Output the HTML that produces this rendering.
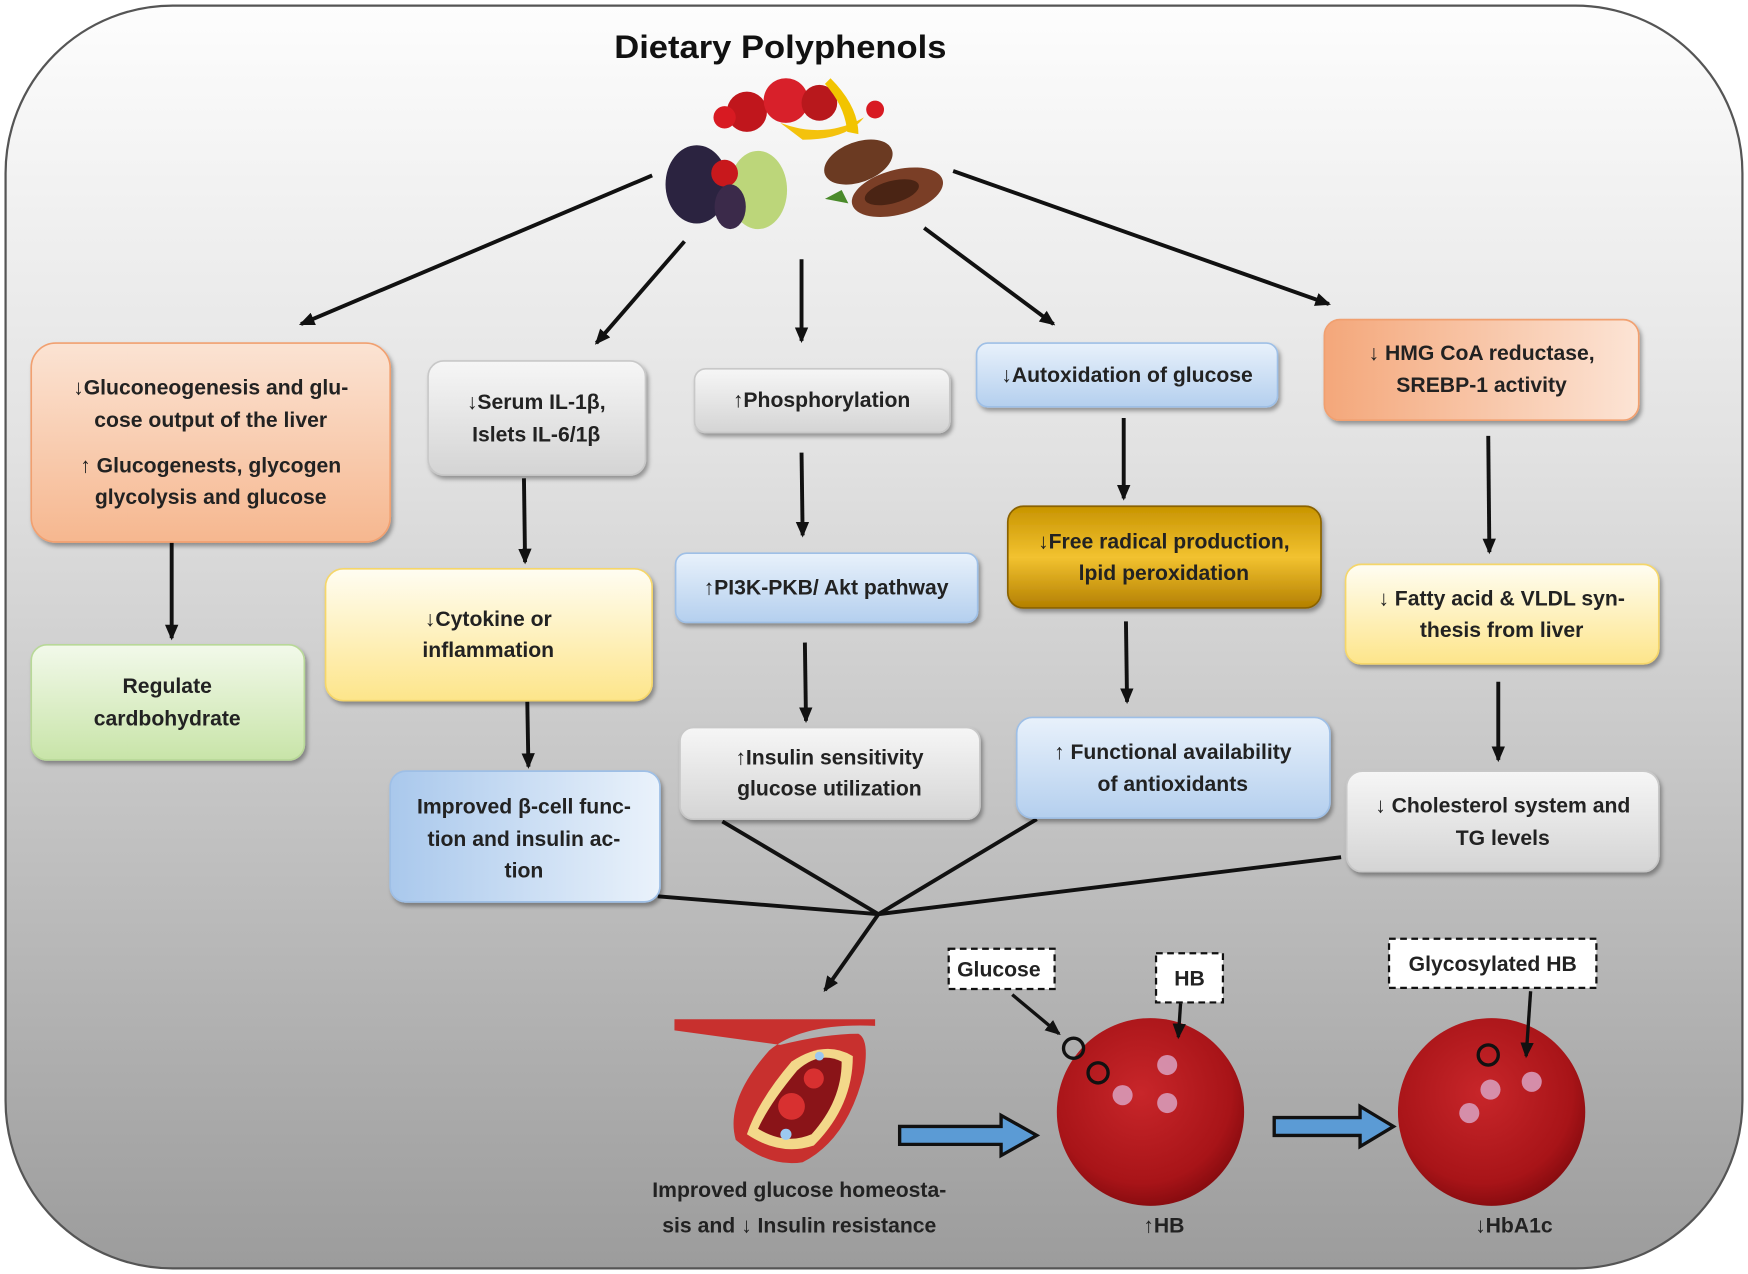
<!DOCTYPE html>
<html><head><meta charset="utf-8"><style>
html,body{margin:0;padding:0;background:#fff;}
svg{display:block;}
text{font-family:"Liberation Sans",sans-serif;font-weight:bold;fill:#222;font-size:19px;text-anchor:middle;}
</style></head><body>
<svg width="1748" height="1274" viewBox="0 0 1568 1140" preserveAspectRatio="none" xmlns="http://www.w3.org/2000/svg">
<defs>
<linearGradient id="bg" x1="0" y1="0" x2="0" y2="1"><stop offset="0" stop-color="#fdfdfd"/><stop offset="0.35" stop-color="#e2e2e2"/><stop offset="1" stop-color="#9c9c9c"/></linearGradient>
<linearGradient id="or" x1="0" y1="0" x2="0" y2="1"><stop offset="0" stop-color="#fbe3d3"/><stop offset="1" stop-color="#f6b78f"/></linearGradient>
<linearGradient id="or2" x1="0" y1="0" x2="1" y2="0"><stop offset="0" stop-color="#f4a77a"/><stop offset="1" stop-color="#fce4d5"/></linearGradient>
<linearGradient id="gr" x1="0" y1="0" x2="0" y2="1"><stop offset="0" stop-color="#f6f6f6"/><stop offset="1" stop-color="#d4d4d4"/></linearGradient>
<linearGradient id="ye" x1="0" y1="0" x2="0" y2="1"><stop offset="0" stop-color="#fffdf2"/><stop offset="1" stop-color="#fde58a"/></linearGradient>
<linearGradient id="bl" x1="0" y1="0" x2="0" y2="1"><stop offset="0" stop-color="#e8f1fb"/><stop offset="1" stop-color="#b4cfee"/></linearGradient>
<linearGradient id="bl2" x1="0" y1="0" x2="1" y2="0"><stop offset="0" stop-color="#a9c8ec"/><stop offset="1" stop-color="#eaf2fb"/></linearGradient>
<linearGradient id="gn" x1="0" y1="0" x2="0" y2="1"><stop offset="0" stop-color="#f2f9ea"/><stop offset="1" stop-color="#c8e4a8"/></linearGradient>
<linearGradient id="gd" x1="0" y1="0" x2="0" y2="1"><stop offset="0" stop-color="#c89400"/><stop offset="0.5" stop-color="#f2c230"/><stop offset="1" stop-color="#b37f00"/></linearGradient>
<radialGradient id="rbc" cx="0.45" cy="0.4" r="0.6"><stop offset="0" stop-color="#c8262a"/><stop offset="0.8" stop-color="#a81418"/><stop offset="1" stop-color="#8a0c10"/></radialGradient>
<marker id="ah" markerWidth="14" markerHeight="14" refX="12" refY="7" orient="auto" markerUnits="userSpaceOnUse"><path d="M0,1 L14,7 L0,13 z" fill="#111"/></marker>
<filter id="sh" x="-5%" y="-5%" width="112%" height="120%"><feDropShadow dx="2" dy="3" stdDeviation="2" flood-color="#000" flood-opacity="0.35"/></filter>
</defs>
<rect x="5" y="5" width="1558" height="1130" rx="150" fill="url(#bg)" stroke="#555" stroke-width="2"/>
<text x="700" y="52" style="font-size:29px;fill:#111" textLength="298" lengthAdjust="spacingAndGlyphs">Dietary Polyphenols</text>
<!-- fruits -->
<g>
<circle cx="670" cy="100" r="18" fill="#c0161c"/><circle cx="705" cy="90" r="20" fill="#d8202a"/><circle cx="735" cy="92" r="16" fill="#b8181c"/>
<path d="M700,110 Q740,125 775,105 Q760,125 720,125 z" fill="#f4c20d"/><path d="M745,70 Q770,95 770,120 L760,118 Q758,95 740,75z" fill="#f2c400"/>
<circle cx="785" cy="98" r="8" fill="#d81a22"/><circle cx="650" cy="105" r="10" fill="#d81a22"/>
<ellipse cx="625" cy="165" rx="28" ry="35" fill="#2b2340"/><ellipse cx="680" cy="170" rx="26" ry="35" fill="#bcd67a"/><circle cx="650" cy="155" r="12" fill="#c8181c"/><ellipse cx="655" cy="185" rx="14" ry="20" fill="#3b2a4a"/>
<ellipse cx="770" cy="145" rx="32" ry="18" fill="#6b3a22" transform="rotate(-20 770 145)"/><ellipse cx="805" cy="172" rx="42" ry="20" fill="#7a3e26" transform="rotate(-15 805 172)"/><ellipse cx="800" cy="172" rx="25" ry="10" fill="#4a2414" transform="rotate(-15 800 172)"/><path d="M740,178 l15,-8 l6,12z" fill="#4a8a2a"/>
</g>
<!-- arrows from top -->
<g stroke="#111" stroke-width="3.5" fill="none" marker-end="url(#ah)">
<line x1="585" y1="157" x2="270" y2="290"/><line x1="614" y1="216" x2="535" y2="307"/><line x1="719" y1="232" x2="719" y2="305"/><line x1="829" y1="204" x2="945" y2="290"/><line x1="855" y1="153" x2="1192" y2="272"/>
<line x1="154" y1="484" x2="154" y2="571"/><line x1="470" y1="428" x2="471" y2="503"/><line x1="473" y1="628" x2="474" y2="686"/>
<line x1="719" y1="405" x2="720" y2="479"/><line x1="722" y1="575" x2="723" y2="645"/>
<line x1="1008" y1="374" x2="1008" y2="446"/><line x1="1010" y1="556" x2="1011" y2="628"/>
<line x1="1335" y1="390" x2="1336" y2="494"/><line x1="1344" y1="610" x2="1344" y2="680"/>
<line x1="788" y1="818" x2="740" y2="886"/>
</g>
<g stroke="#111" stroke-width="3.5"><line x1="590" y1="802" x2="788" y2="818"/><line x1="648" y1="735" x2="788" y2="818"/><line x1="930" y1="733" x2="788" y2="818"/><line x1="1203" y1="767" x2="788" y2="818"/></g>
<!-- boxes -->
<g filter="url(#sh)" stroke-width="1.5">
<rect x="28" y="307" width="322" height="178" rx="22" fill="url(#or)" stroke="#f1a070"/>
<rect x="28" y="577" width="245" height="103" rx="14" fill="url(#gn)" stroke="#b8d898"/>
<rect x="384" y="323" width="195" height="102" rx="14" fill="url(#gr)" stroke="#c8c8c8"/>
<rect x="292" y="509" width="293" height="118" rx="16" fill="url(#ye)" stroke="#f5d66a"/>
<rect x="350" y="690" width="242" height="117" rx="14" fill="url(#bl2)" stroke="#9ebfe6"/>
<rect x="623" y="330" width="229" height="57" rx="10" fill="url(#gr)" stroke="#c8c8c8"/>
<rect x="606" y="495" width="271" height="62" rx="10" fill="url(#bl)" stroke="#9ebfe6"/>
<rect x="610" y="651" width="269" height="82" rx="12" fill="url(#gr)" stroke="#c8c8c8"/>
<rect x="876" y="307" width="270" height="57" rx="10" fill="url(#bl)" stroke="#9ebfe6"/>
<rect x="904" y="453" width="281" height="91" rx="14" fill="url(#gd)" stroke="#8a6200"/>
<rect x="912" y="642" width="281" height="90" rx="14" fill="url(#bl)" stroke="#9ebfe6"/>
<rect x="1188" y="286" width="282" height="90" rx="14" fill="url(#or2)" stroke="#f1a070"/>
<rect x="1207" y="505" width="281" height="89" rx="14" fill="url(#ye)" stroke="#f5d66a"/>
<rect x="1208" y="690" width="280" height="90" rx="14" fill="url(#gr)" stroke="#c8c8c8"/>
</g>
<text x="189" y="353">↓Gluconeogenesis and glu-</text><text x="189" y="382">cose output of the liver</text>
<text x="189" y="423">↑ Glucogenests, glycogen</text><text x="189" y="451">glycolysis and glucose</text>
<text x="150" y="620">Regulate</text><text x="150" y="649">cardbohydrate</text>
<text x="481" y="366">↓Serum IL-1β,</text><text x="481" y="395">Islets IL-6/1β</text>
<text x="438" y="560">↓Cytokine or</text><text x="438" y="588">inflammation</text>
<text x="470" y="728">Improved β-cell func-</text><text x="470" y="757">tion and insulin ac-</text><text x="470" y="785">tion</text>
<text x="737" y="364">↑Phosphorylation</text>
<text x="741" y="532">↑PI3K-PKB/ Akt pathway</text>
<text x="744" y="684">↑Insulin sensitivity</text><text x="744" y="712">glucose utilization</text>
<text x="1011" y="342">↓Autoxidation of glucose</text>
<text x="1044" y="491">↓Free radical production,</text><text x="1044" y="519">lpid peroxidation</text>
<text x="1052" y="679">↑ Functional availability</text><text x="1052" y="708">of antioxidants</text>
<text x="1329" y="322">↓ HMG CoA reductase,</text><text x="1329" y="351">SREBP-1 activity</text>
<text x="1347" y="542">↓ Fatty acid &amp; VLDL syn-</text><text x="1347" y="570">thesis from liver</text>
<text x="1348" y="727">↓ Cholesterol system and</text><text x="1348" y="756">TG levels</text>
<!-- dashed labels -->
<g fill="#fff" stroke="#111" stroke-width="2" stroke-dasharray="6,4">
<rect x="851" y="849" width="95" height="36"/><rect x="1037" y="853" width="60" height="44"/><rect x="1246" y="840" width="186" height="44"/>
</g>
<text x="896" y="874">Glucose</text><text x="1067" y="882">HB</text><text x="1339" y="869">Glycosylated HB</text>
<!-- vessel -->
<path d="M605,912 L785,912 L785,918 Q720,915 690,940 Q650,985 660,1020 Q690,1045 720,1040 Q760,1020 775,960 Q780,930 770,925 Q740,925 700,935 L605,922 z" fill="#c8302e"/>
<path d="M670,1015 Q700,1035 730,1025 Q765,990 765,945 Q740,930 710,950 Q680,985 670,1015z" fill="#f3d88a"/>
<path d="M680,1010 Q705,1025 728,1015 Q755,985 755,950 Q735,940 715,958 Q690,988 680,1010z" fill="#8a1418"/>
<circle cx="710" cy="990" r="12" fill="#d83030"/><circle cx="730" cy="965" r="9" fill="#d83030"/><circle cx="705" cy="1015" r="5" fill="#9cc8f0"/><circle cx="735" cy="945" r="4" fill="#9cc8f0"/>
<!-- RBCs -->
<circle cx="1032" cy="995" r="84" fill="url(#rbc)"/><circle cx="1338" cy="995" r="84" fill="url(#rbc)"/>
<g fill="#d89ab8" opacity="0.9"><circle cx="1047" cy="953" r="9"/><circle cx="1007" cy="980" r="9"/><circle cx="1047" cy="987" r="9"/><circle cx="1374" cy="968" r="9"/><circle cx="1337" cy="975" r="9"/><circle cx="1318" cy="996" r="9"/></g>
<g fill="none" stroke="#111" stroke-width="3"><circle cx="963" cy="938" r="9"/><circle cx="985" cy="960" r="9"/><circle cx="1335" cy="944" r="9"/></g>
<g stroke="#111" stroke-width="3" fill="none" marker-end="url(#ah)">
<line x1="908" y1="890" x2="950" y2="925"/><line x1="1059" y1="898" x2="1057" y2="928"/><line x1="1373" y1="887" x2="1369" y2="945"/>
</g>
<!-- blue arrows -->
<path d="M807,1008 L898,1008 L898,998 L930,1016 L898,1034 L898,1024 L807,1024 z" fill="#5b9bd5" stroke="#111" stroke-width="3"/>
<path d="M1143,1000 L1220,1000 L1220,990 L1250,1008 L1220,1026 L1220,1016 L1143,1016 z" fill="#5b9bd5" stroke="#111" stroke-width="3"/>
<text x="717" y="1071">Improved glucose homeosta-</text><text x="717" y="1103">sis and ↓ Insulin resistance</text>
<text x="1044" y="1103">↑HB</text><text x="1358" y="1103">↓HbA1c</text>
</svg>
</body></html>
